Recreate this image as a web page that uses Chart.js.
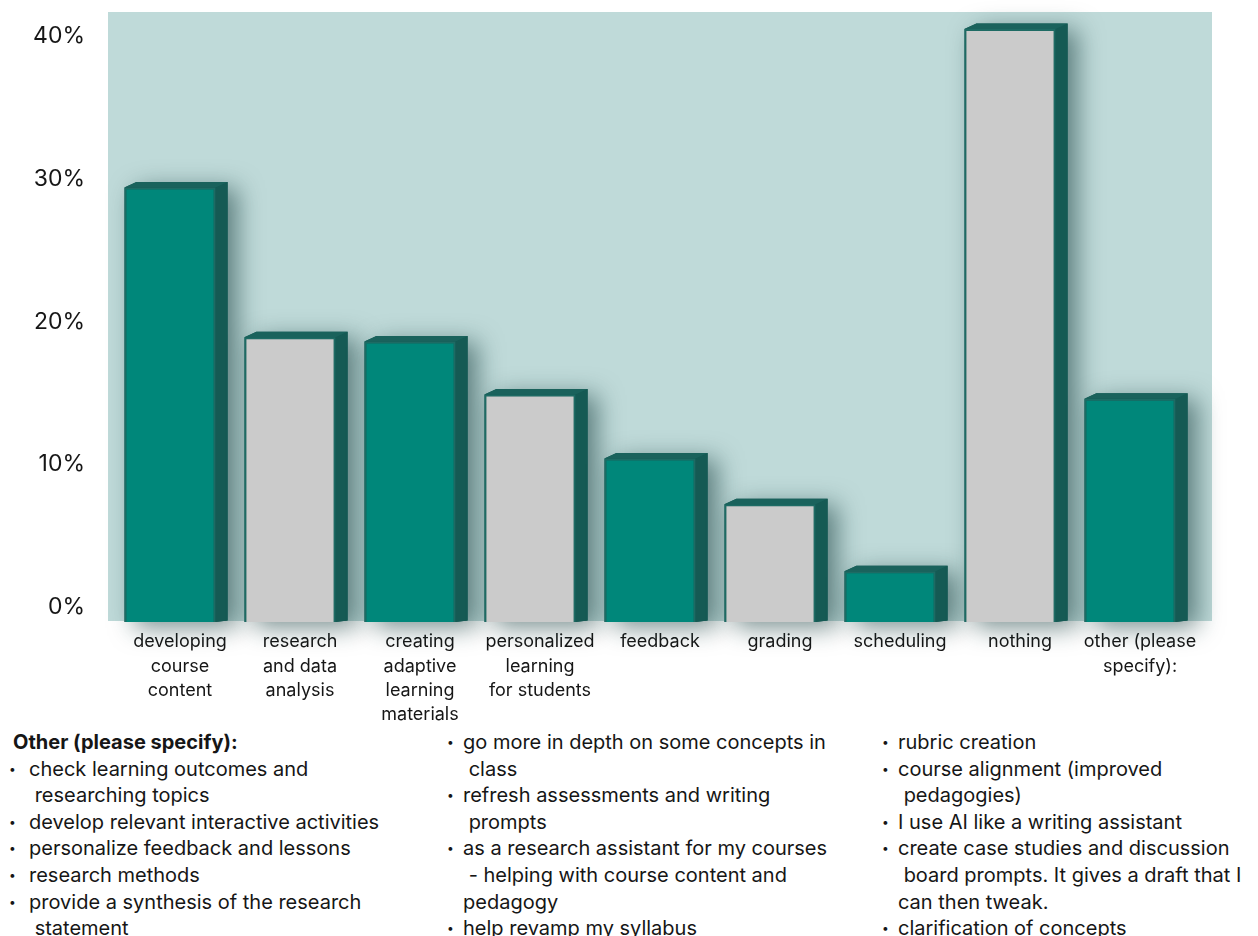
<!DOCTYPE html>
<html>
<head>
<meta charset="utf-8">
<script src="https://cdn.jsdelivr.net/npm/chart.js@4.4.1/dist/chart.umd.min.js"></script>
<style>
  html, body { margin: 0; padding: 0; background: #fff; overflow: hidden; }
  body { width: 1258px; height: 936px; position: relative; font-family: Inter, "Noto Sans", sans-serif; color: #161616; }
  #chartBox { position: absolute; left: 0; top: 0; width: 1258px; height: 728px; }
  .notes { position: absolute; top: 729px; font-size: 20px; line-height: 26.6px; white-space: pre; }
  .notes div { position: relative; }
  .notes b { font-weight: 700; }
  .notes .title { margin-left: -16px; }
  .dot { position: absolute; font-size: 12px; }
</style>
</head>
<body>
<div id="chartBox"><canvas id="usesChart" width="1258" height="728"></canvas></div>
<div class="notes" id="col1" style="left:29px"></div>
<div class="notes" id="col2" style="left:463px"></div>
<div class="notes" id="col3" style="left:898px"></div>

<script>
// categories and shares of respondents (%)
const categories = [
    ['developing', 'course', 'content'],
    ['research', 'and data', 'analysis'],
    ['creating', 'adaptive', 'learning', 'materials'],
    ['personalized', 'learning', 'for students'],
    'feedback',
    'grading',
    'scheduling',
    'nothing',
    ['other (please', 'specify):']
];
const shares = [29.4, 18.9, 18.6, 14.9, 10.4, 7.2, 2.5, 40.5, 14.6];
const tickValues = [0, 10, 20, 30, 40];

// free-text answers, one line per entry ('*' starts a new bullet)
const otherTitle = 'Other (please specify):';
const otherCol1 = [
    '*check learning outcomes and',
    ' researching topics',
    '*develop relevant interactive activities',
    '*personalize feedback and lessons',
    '*research methods',
    '*provide a synthesis of the research',
    ' statement'
];
const otherCol2 = [
    '*go more in depth on some concepts in',
    ' class',
    '*refresh assessments and writing',
    ' prompts',
    '*as a research assistant for my courses',
    ' - helping with course content and',
    'pedagogy',
    '*help revamp my syllabus'
];
const otherCol3 = [
    '*rubric creation',
    '*course alignment (improved',
    ' pedagogies)',
    '*I use AI like a writing assistant',
    '*create case studies and discussion',
    ' board prompts. It gives a draft that I',
    'can then tweak.',
    '*clarification of concepts'
];

const TEAL = '#00877a';
const GREY = '#cbcbcb';
const EDGE = '#1e6b64';
const SIDE = '#155a54';
const TOP = '#1a625c';
const AXIS_MIN = -1.05;

function fillNotes(id, lines, title) {
    const col = document.getElementById(id);
    if (title) {
        const t = document.createElement('div');
        t.className = 'title';
        t.innerHTML = '<b>' + title + '</b>';
        col.appendChild(t);
    }
    lines.forEach(line => {
        const row = document.createElement('div');
        if (line.startsWith('*')) {
            const dot = document.createElement('span');
            dot.className = 'dot';
            dot.textContent = '•';
            dot.style.left = (id === 'col1' ? -20 : -16) + 'px';
            row.appendChild(dot);
            row.appendChild(document.createTextNode(line.slice(1)));
        } else {
            row.textContent = line;
        }
        col.appendChild(row);
    });
}
fillNotes('col1', otherCol1, otherTitle);
fillNotes('col2', otherCol2);
fillNotes('col3', otherCol3);

// back wall plus the side/top faces and shadow of each bar
const box3d = {
    id: 'box3d',
    beforeDraw(chart) {
        const {ctx, chartArea: a} = chart;
        ctx.save();
        ctx.fillStyle = '#bfdad9';
        ctx.fillRect(a.left - 2, a.top, a.right - a.left + 24, a.bottom - a.top - 1);
        ctx.restore();
    },
    beforeDatasetsDraw(chart) {
        const ctx = chart.ctx;
        const dx = 12, dyT = 5.5, dyB = 1.5;
        chart.getDatasetMeta(0).data.forEach(bar => {
            const {x, y, base, width} = bar.getProps(['x', 'y', 'base', 'width'], true);
            const x0 = x - width / 2, x1 = x + width / 2;

            ctx.save();
            ctx.shadowColor = 'rgba(15, 55, 55, 0.55)';
            ctx.shadowBlur = 24;
            ctx.shadowOffsetX = 10;
            ctx.shadowOffsetY = 6;
            ctx.fillStyle = SIDE;
            ctx.beginPath();
            ctx.moveTo(x0, y);
            ctx.lineTo(x0 + dx, y - dyT);
            ctx.lineTo(x1 + dx, y - dyT);
            ctx.lineTo(x1 + dx, base - dyB);
            ctx.lineTo(x1, base);
            ctx.lineTo(x0, base);
            ctx.closePath();
            ctx.fill();
            ctx.restore();

            ctx.save();
            ctx.fillStyle = SIDE;
            ctx.beginPath();
            ctx.moveTo(x1, y);
            ctx.lineTo(x1 + dx, y - dyT);
            ctx.lineTo(x1 + dx, base - dyB);
            ctx.lineTo(x1, base);
            ctx.closePath();
            ctx.fill();

            ctx.fillStyle = TOP;
            ctx.beginPath();
            ctx.moveTo(x0, y);
            ctx.lineTo(x0 + dx, y - dyT);
            ctx.lineTo(x1 + dx, y - dyT);
            ctx.lineTo(x1, y);
            ctx.closePath();
            ctx.fill();
            ctx.restore();
        });
    }
};

Chart.defaults.font.family = 'Inter, "Noto Sans", sans-serif';
Chart.defaults.color = '#161616';

const ctx = document.getElementById('usesChart').getContext('2d');
const usesChart = new Chart(ctx, {
    type: 'bar',
    data: {
        labels: categories,
        datasets: [{
            data: shares,
            base: AXIS_MIN,
            backgroundColor: shares.map((v, i) => i % 2 === 0 ? TEAL : GREY),
            borderColor: EDGE,
            borderWidth: 2,
            categoryPercentage: 1,
            barPercentage: 0.76
        }]
    },
    options: {
        responsive: false,
        animation: false,
        layout: { padding: { top: 12, right: 68, left: 0, bottom: 0 } },
        plugins: {
            legend: { display: false },
            tooltip: { enabled: false }
        },
        scales: {
            x: {
                grid: { display: false },
                border: { display: false },
                ticks: {
                    font: { size: 18, lineHeight: 1.34 },
                    padding: 0,
                    labelOffset: 10,
                    maxRotation: 0,
                    autoSkip: false
                },
                afterFit: scale => {
                    scale.height = 106;
                    scale.paddingLeft = 0;
                    scale.paddingRight = 0;
                }
            },
            y: {
                min: AXIS_MIN,
                max: 41.7,
                grid: { display: false },
                border: { display: false },
                afterBuildTicks: scale => {
                    scale.ticks = tickValues.map(v => ({ value: v }));
                },
                ticks: {
                    font: { size: 23 },
                    padding: 17,
                    callback: v => v + '%'
                },
                afterFit: scale => {
                    scale.width = 110;
                    scale.paddingTop = 0;
                    scale.paddingBottom = 0;
                }
            }
        }
    },
    plugins: [box3d]
});
</script>
</body>
</html>
